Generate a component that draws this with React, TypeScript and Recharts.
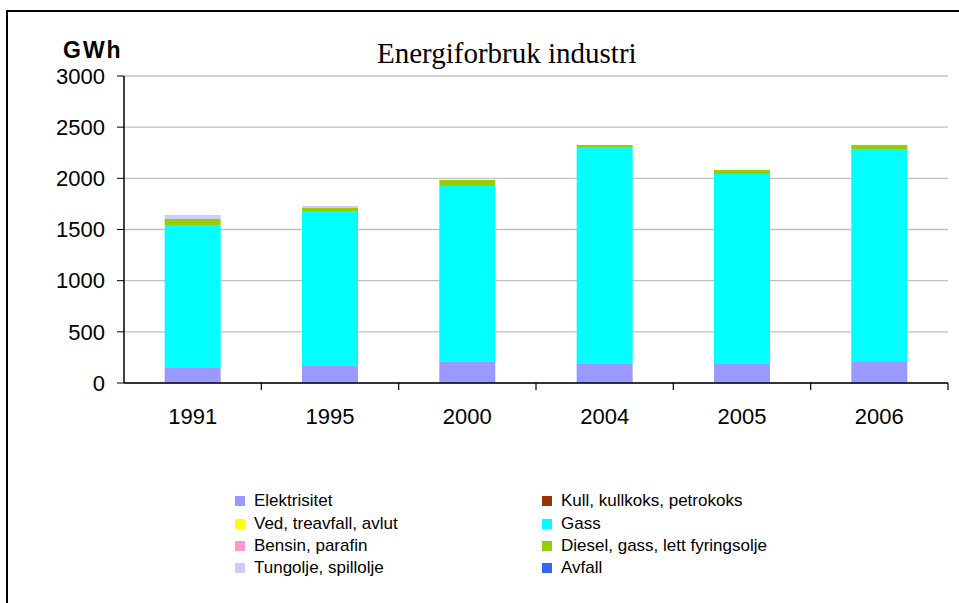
import React from 'react';
import { BarChart, Bar, XAxis, YAxis, CartesianGrid } from 'recharts';

const years = ['1991', '1995', '2000', '2004', '2005', '2006'];
const elektrisitet = [153, 173, 212, 193, 193, 205];
const kull = [0, 0, 0, 0, 0, 0];
const ved = [0, 0, 0, 0, 0, 0];
const gass = [1391, 1508, 1714, 2114, 1850, 2082];
const bensin = [0, 0, 0, 0, 0, 0];
const diesel = [59, 30, 58, 19, 39, 39];
const tungolje = [39, 19, 0, 0, 0, 0];
const avfall = [0, 0, 0, 0, 0, 0];
const yTicks = [0, 500, 1000, 1500, 2000, 2500, 3000];

const series = [
  { key: 'elektrisitet', name: 'Elektrisitet', color: '#9999FF', values: elektrisitet },
  { key: 'kull', name: 'Kull, kullkoks, petrokoks', color: '#993300', values: kull },
  { key: 'ved', name: 'Ved, treavfall, avlut', color: '#FFFF00', values: ved },
  { key: 'gass', name: 'Gass', color: '#00FFFF', values: gass },
  { key: 'bensin', name: 'Bensin, parafin', color: '#FF99CC', values: bensin },
  { key: 'diesel', name: 'Diesel, gass, lett fyringsolje', color: '#99CC00', values: diesel },
  { key: 'tungolje', name: 'Tungolje, spillolje', color: '#CCCCFF', values: tungolje },
  { key: 'avfall', name: 'Avfall', color: '#3366FF', values: avfall },
];

const data = years.map((year, i) => {
  const row: Record<string, string | number> = { year };
  series.forEach((s) => {
    row[s.key] = s.values[i];
  });
  return row;
});

const W = 959;
const H = 603;
const margin = { top: 76, right: 11, left: 64, bottom: 180 };
const yAxisWidth = 60;
const band = (W - margin.left - yAxisWidth - margin.right) / years.length;

const sans = 'Arial, "Liberation Sans", sans-serif';
const serif = '"Times New Roman", "Liberation Serif", serif';

// x tick: label in the middle, tick mark on the category boundary
const XTick = (props: any) => {
  const { x, y, payload } = props;
  const bx = x + band / 2;
  return (
    <g>
      <line x1={bx} y1={y} x2={bx} y2={y + 7} stroke="#000" strokeWidth={1.2} />
      <text x={x} y={y + 41} textAnchor="middle" fontSize={22} fontFamily={sans} fill="#000">
        {payload.value}
      </text>
    </g>
  );
};

export default function App() {
  return (
    <div style={{ position: 'fixed', left: 0, top: 0, width: W, height: H, overflow: 'hidden', background: '#fff' }}>
      <div
        style={{
          position: 'absolute',
          left: 6,
          top: 10,
          width: 1000,
          height: 700,
          borderLeft: '2px solid #000',
          borderTop: '2px solid #000',
        }}
      />
      <div style={{ position: 'absolute', left: 0, top: 0, width: W, height: 69, overflow: 'hidden' }}>
        <div
          style={{
            position: 'absolute',
            left: 377,
            top: 37,
            fontFamily: serif,
            fontSize: 29,
            lineHeight: '32px',
            whiteSpace: 'nowrap',
          }}
        >
          Energiforbruk industri
        </div>
      </div>
      <div
        style={{
          position: 'absolute',
          left: 63,
          top: 37,
          fontFamily: sans,
          fontWeight: 'bold',
          fontSize: 23,
          letterSpacing: 2,
          lineHeight: '26px',
        }}
      >
        GWh
      </div>
      <div style={{ position: 'absolute', left: 0, top: 0 }}>
        <BarChart width={W} height={H} data={data} margin={margin} barCategoryGap="29.6%">
          <CartesianGrid vertical={false} stroke="#c0c0c0" strokeWidth={1.3} />
          <XAxis
            dataKey="year"
            height={40}
            axisLine={{ stroke: '#000', strokeWidth: 1.5 }}
            tickLine={false}
            tickSize={0}
            tickMargin={0}
            tick={<XTick />}
            interval={0}
          />
          <XAxis xAxisId="top" dataKey="year" orientation="top" height={0} tick={false} tickLine={false} axisLine={{ stroke: '#000', strokeWidth: 1.5 }} />
          <YAxis
            width={yAxisWidth}
            domain={[0, 3000]}
            ticks={yTicks}
            interval={0}
            axisLine={{ stroke: '#000', strokeWidth: 1.5 }}
            tickLine={{ stroke: '#000' }}
            tickSize={7}
            tickMargin={12}
            tick={{ fill: '#000', fontSize: 22, fontFamily: sans }}
          />
          <YAxis yAxisId="right" orientation="right" width={0} domain={[0, 3000]} tick={false} tickLine={false} axisLine={{ stroke: '#000', strokeWidth: 1.5 }} />
          {series.map((s) => (
            <Bar
              key={s.key}
              dataKey={s.key}
              name={s.name}
              stackId="a"
              fill={s.color}
              isAnimationActive={false}
            />
          ))}
        </BarChart>
      </div>
      <div
        style={{
          position: 'absolute',
          left: 235,
          top: 490,
          display: 'grid',
          gridTemplateColumns: '307px 300px',
          gridAutoRows: '22.4px',
          fontFamily: sans,
          fontSize: 17,
        }}
      >
        {series.map((s) => (
          <div key={s.key} style={{ display: 'flex', alignItems: 'center', whiteSpace: 'nowrap' }}>
            <span style={{ display: 'inline-block', width: 10, height: 10, background: s.color, marginRight: 9 }} />
            {s.name}
          </div>
        ))}
      </div>
    </div>
  );
}
